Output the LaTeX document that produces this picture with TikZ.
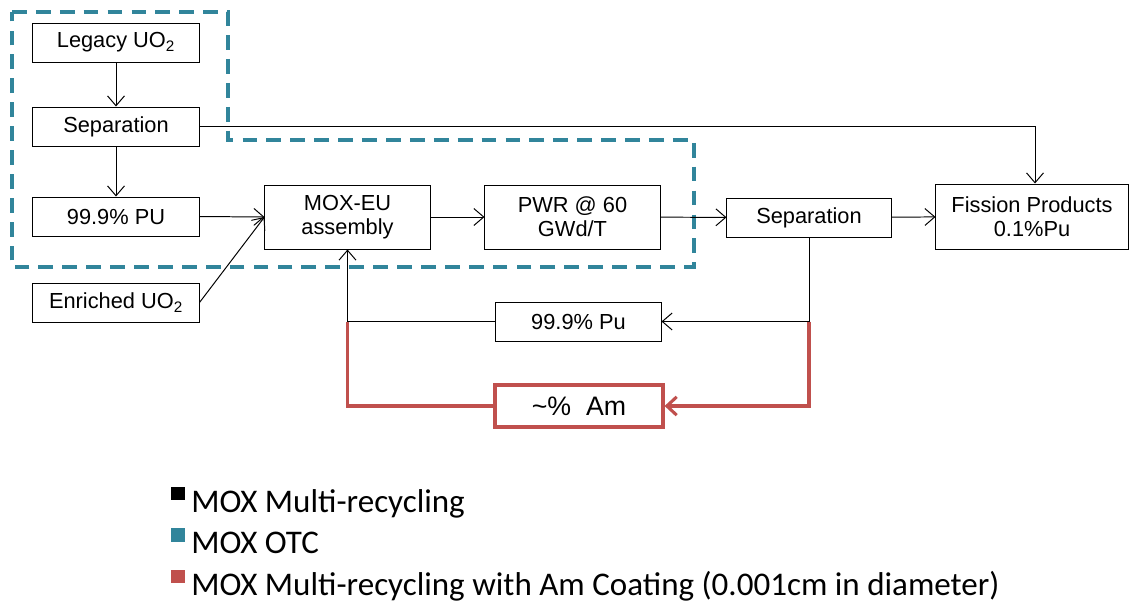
\documentclass[tikz,border=0pt]{standalone}
\usepackage{fontspec}
\setmainfont{Liberation Sans}
\newfontfamily\legendfont{Carlito}
\usepackage{tikz}
\usetikzlibrary{calc,positioning,arrows.meta,shadows}
\definecolor{otcteal}{RGB}{49,133,155}
\definecolor{amred}{RGB}{192,80,77}

\tikzset{
  box/.style={draw, line width=0.7pt, minimum width=4.15cm, minimum height=0.975cm, align=center, inner sep=1pt, font=\fontsize{15.5}{17}\selectfont},
  tallbox/.style={box, minimum height=1.6cm},
  flow/.style={line width=0.7pt, -{Straight Barb[length=7pt,width=12pt]}},
  link/.style={line width=0.7pt},
  amline/.style={amred, line width=2.2pt},
  legend/.style={anchor=base west, inner sep=0pt, font=\legendfont\fontsize{23.5}{26}\selectfont}
}

\begin{document}
\begin{tikzpicture}[x=0.025cm,y=-0.025cm]
\useasboundingbox (0,0) rectangle (1130,601);

% OTC region
\draw [otcteal, line width=3pt, dash pattern=on 10.5pt off 6.5pt]
  (12,12) -- (228,12) -- (228,140) -- (694,140) -- (694,267) -- (12,267) -- cycle;

% boxes
\node [box] (legacy) at (116,42.5) {Legacy UO\textsubscript{2}};
\node [box] (sepa) at (116,126.5) {Separation};
\node [box] (puin) at (116,216.5) {99.9\% PU};
\node [box] (enriched) at (116,302.5) {Enriched UO\textsubscript{2}};
\node [tallbox, minimum width=4.125cm] (mox) at (347.5,217) {MOX-EU\\assembly};
\node [tallbox, minimum width=4.375cm] (pwr) at (572.5,217) {PWR @ 60\\GWd/T};
\node [box, minimum width=4.1cm] (sepb) at (809,217.5) {Separation};
\node [tallbox, minimum width=4.8cm, minimum height=1.625cm] (fission) at (1032,216.5) {Fission Products\\0.1\%Pu};
\node [box, minimum width=4.125cm] (puback) at (578.5,321.5) {99.9\% Pu};
\node [box, draw=amred, line width=2.2pt, minimum width=4.2cm, minimum height=1.05cm,
  font=\fontsize{19}{21}\selectfont, fill=white,
  drop shadow={shadow xshift=1.5pt, shadow yshift=-1.5pt, opacity=0.35}] (am) at (579,406) {\textasciitilde\%\ \ Am};

% connectors
\draw [flow] (legacy) -- (sepa);
\draw [flow] (sepa) -- (puin);
\draw [flow] (sepa.east) -| ([xshift=0.075cm]fission.north);
\draw [flow] (puin.east) -- (mox.west);
\draw [flow] (enriched.east) -- (mox.west);
\draw [flow] (mox) -- (pwr);
\draw [flow] (pwr) -- (sepb);
\draw [flow] (sepb) -- (fission);
\draw [flow] (sepb.south) |- (puback.east);
\draw [link] (puback.west) -| (mox.south |- puback.west) coordinate (loopin);
\draw [flow] (loopin) -- (mox.south);

% Am recycle
\draw [amline, -{Straight Barb[length=7pt,width=13pt]}] (sepb.south |- puback.east) |- (am.east);
\draw [amline] (am.west) -| (loopin);

% legend
\fill [black] (171,487) rectangle (185,500);
\fill [otcteal] (171,528) rectangle (185,542);
\fill [amred] (171,570) rectangle (185,583);
\node [legend] (legmulti) at (191,512) {MOX Multi-recycling};
\node [legend] (legotc) at (191,553) {MOX OTC};
\node [legend] (legam) at (191,595) {MOX Multi-recycling with Am Coating (0.001cm in diameter)};
\end{tikzpicture}
\end{document}
